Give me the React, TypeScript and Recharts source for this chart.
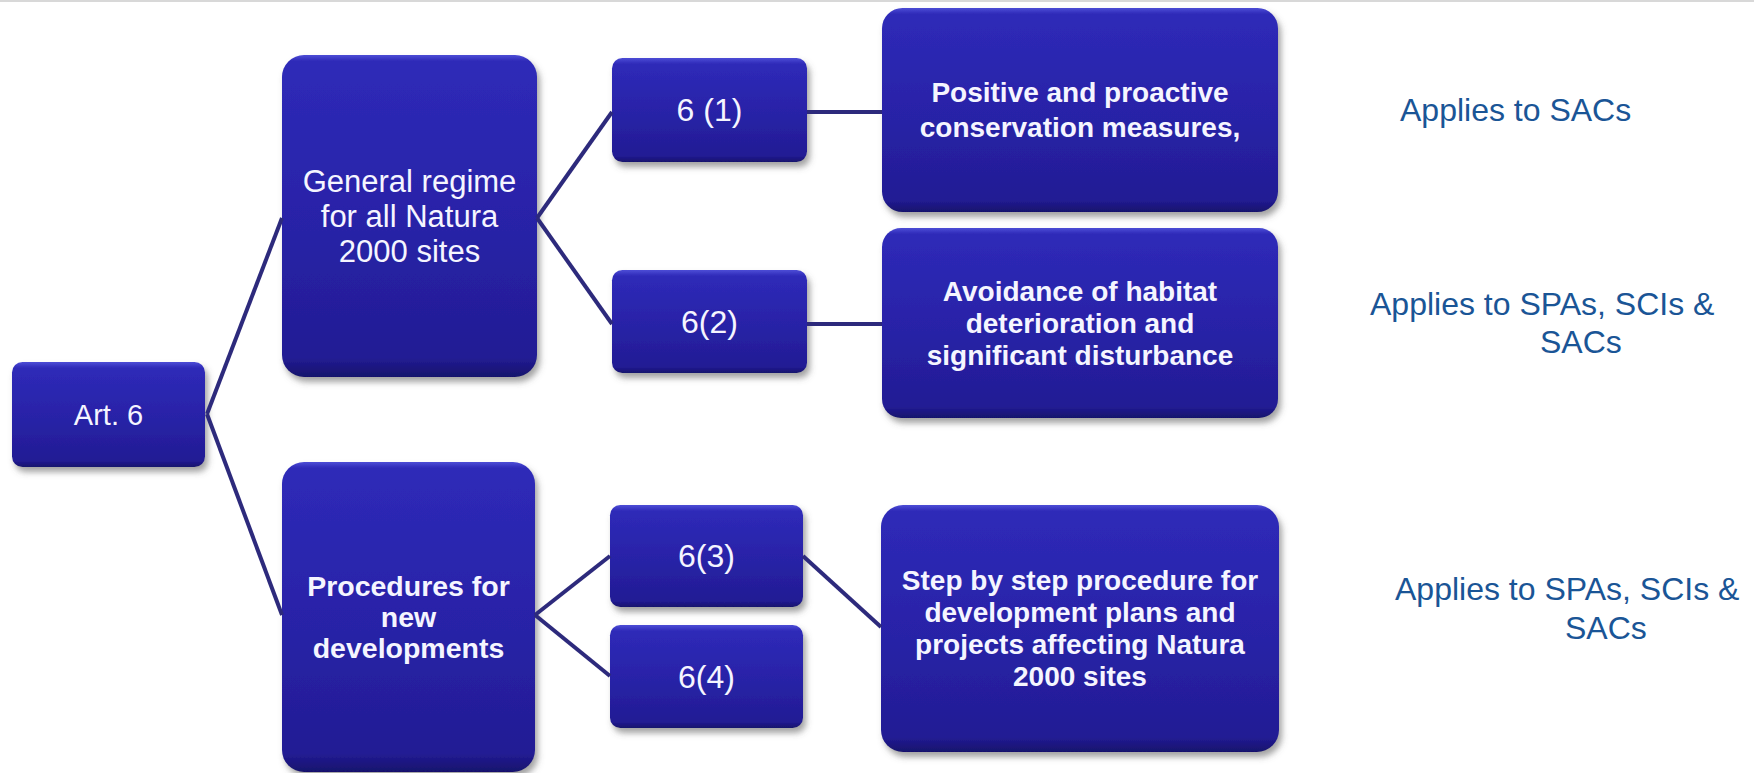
import React from "react";
import {
  ComposedChart,
  XAxis,
  YAxis,
  ReferenceArea,
  ReferenceLine,
  Scatter,
} from "recharts";

// diagram boxes (in diagram units, 0..1754 x 0..773, y down)
const boxText = [
  ["Art. 6"],
  ["General regime", "for all Natura", "2000 sites"],
  ["6 (1)"],
  ["6(2)"],
  ["Positive and proactive", "conservation measures,"],
  ["Avoidance of habitat", "deterioration and", "significant disturbance"],
  ["Procedures for", "new", "developments"],
  ["6(3)"],
  ["6(4)"],
  ["Step by step procedure for", "development plans and", "projects affecting Natura", "2000 sites"],
];
const boxLeft = [12, 282, 612, 612, 882, 882, 282, 610, 610, 881];
const boxRight = [205, 537, 807, 807, 1278, 1278, 535, 803, 803, 1279];
const boxTop = [362, 55, 58, 270, 8, 228, 462, 505, 625, 505];
const boxBottom = [467, 377, 162, 373, 212, 418, 772, 607, 728, 752];

// connectors: [x1, y1, x2, y2]
const links = [
  [207, 414, 282, 218],
  [207, 414, 282, 615],
  [537, 218, 612, 112],
  [537, 218, 612, 324],
  [807, 112, 882, 112],
  [807, 324, 882, 324],
  [535, 615, 610, 556],
  [535, 615, 610, 676],
  [803, 556, 881, 627],
];

// side notes
const noteText = [
  "Applies to SACs",
  "Applies to SPAs, SCIs &",
  "SACs",
  "Applies to SPAs, SCIs &",
  "SACs",
];
const noteX = [1400, 1370, 1540, 1395, 1565];
const noteY = [110, 304, 342, 589, 628];

const notes = noteText.map((t, i) => ({ x: noteX[i], y: noteY[i], text: t }));

const W = 1754;
const H = 773;
const FONT = "'Liberation Sans', Arial, sans-serif";

// text style per box
const textStyle = (i: number) => {
  switch (i) {
    case 0:
      return { size: 29, bold: false, lh: 30 };
    case 1:
      return { size: 31, bold: false, lh: 35 };
    case 2:
    case 3:
    case 7:
    case 8:
      return { size: 32, bold: false, lh: 34 };
    case 4:
      return { size: 28, bold: true, lh: 35 };
    case 6:
      return { size: 28.5, bold: true, lh: 31 };
    default:
      return { size: 28, bold: true, lh: 32 };
  }
};

const makeBoxShape = (i: number) => (props: any) => {
  const { x, y, width, height } = props;
  const r = Math.min(22, Math.min(width, height) * 0.1);
  const st = textStyle(i);
  const lines = boxText[i];
  const cx = x + width / 2;
  const cy = y + height / 2;
  const start = cy - ((lines.length - 1) * st.lh) / 2;
  return (
    <g>
      <defs>
        <linearGradient id={`bg${i}`} x1="0" y1="0" x2="0" y2="1">
          <stop offset="0%" stopColor="#4d4dd6" />
          <stop offset={`${Math.min(8, 600 / height)}%`} stopColor="#2e2ab8" />
          <stop offset="55%" stopColor="#2822a6" />
          <stop offset="94%" stopColor="#221c94" />
          <stop offset="100%" stopColor="#17116c" />
        </linearGradient>
        <filter id={`sh${i}`} x="-10%" y="-10%" width="125%" height="130%">
          <feDropShadow dx="3" dy="5" stdDeviation="3" floodColor="#555" floodOpacity="0.55" />
        </filter>
      </defs>
      <rect
        x={x}
        y={y}
        width={width}
        height={height}
        rx={r}
        ry={r}
        fill={`url(#bg${i})`}
        filter={`url(#sh${i})`}
      />
      <text
        x={cx}
        textAnchor="middle"
        fill="#f5f5ff"
        fontFamily={FONT}
        fontSize={st.size}
        fontWeight={st.bold ? "bold" : "normal"}
      >
        {lines.map((l, k) => (
          <tspan key={k} x={cx} y={start + k * st.lh} dominantBaseline="central">
            {l}
          </tspan>
        ))}
      </text>
    </g>
  );
};

const NoteShape = (props: any) => {
  const { cx, cy, payload } = props;
  return (
    <text
      x={cx}
      y={cy}
      dominantBaseline="central"
      fill="#1a5596"
      fontFamily={FONT}
      fontSize={32}
    >
      {payload.text}
    </text>
  );
};

export default function App() {
  return (
    <div style={{ position: "absolute", left: 0, top: 0, width: W, height: H, background: "#fff" }}>
      <ComposedChart width={W} height={H} margin={{ top: 0, right: 0, bottom: 0, left: 0 }}>
        <XAxis type="number" dataKey="x" domain={[0, W]} allowDataOverflow hide />
        <YAxis type="number" dataKey="y" domain={[0, H]} allowDataOverflow reversed hide />
        <ReferenceLine y={1} stroke="#d8d8d8" strokeWidth={2} />
        {links.map((l, i) => (
          <ReferenceLine
            key={`l${i}`}
            segment={[
              { x: l[0], y: l[1] },
              { x: l[2], y: l[3] },
            ]}
            stroke="#2d2a7c"
            strokeWidth={4}
          />
        ))}
        {boxText.map((_, i) => (
          <ReferenceArea
            key={`b${i}`}
            x1={boxLeft[i]}
            x2={boxRight[i]}
            y1={boxTop[i]}
            y2={boxBottom[i]}
            shape={makeBoxShape(i)}
          />
        ))}
        <Scatter data={notes} dataKey="y" shape={NoteShape} isAnimationActive={false} />
      </ComposedChart>
    </div>
  );
}
